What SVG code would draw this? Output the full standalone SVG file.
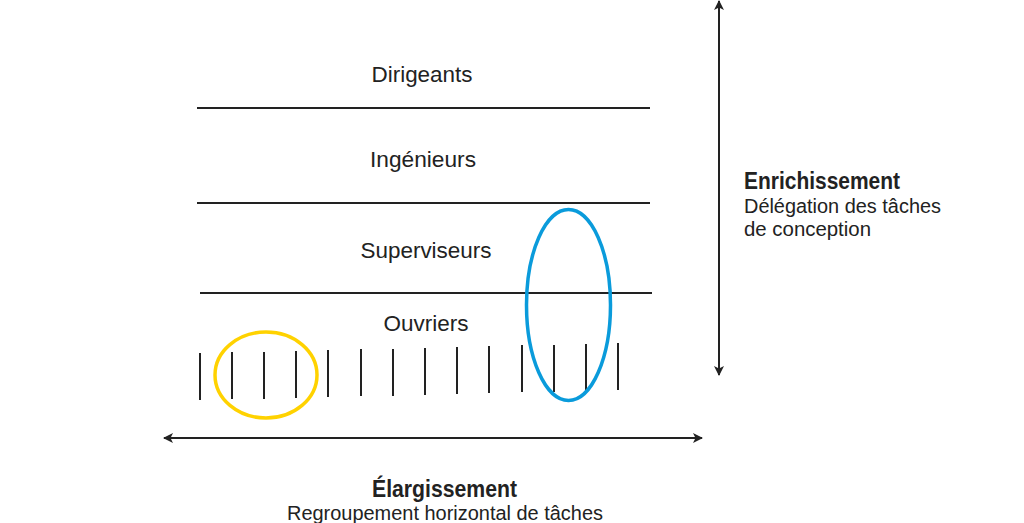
<svg xmlns="http://www.w3.org/2000/svg" width="1024" height="523" viewBox="0 0 1024 523">
<defs>
<marker id="ah" viewBox="0 0 10 10" refX="9" refY="5" markerWidth="10" markerHeight="10" markerUnits="userSpaceOnUse" orient="auto-start-reverse">
<path d="M0,0 L10,5 L0,10 L2.5,5 z" fill="#222"/>
</marker>
</defs>
<style>
.t{font-family:"Liberation Sans",Arial,sans-serif;fill:#222;}
.lvl{font-size:22px;text-anchor:middle;}
.h{font-size:24px;font-weight:bold;}
.s{font-size:19.5px;}
.ln{stroke:#222;stroke-width:2;fill:none;}
.tick{stroke:#222;stroke-width:2;}
</style>
<rect width="1024" height="523" fill="#fff"/>
<g id="levels">
<line class="ln" x1="197" y1="108" x2="650" y2="108"/>
<line class="ln" x1="197" y1="203" x2="650" y2="203"/>
<line class="ln" x1="200" y1="293" x2="652" y2="293"/>
</g>
<g id="dirigeants"><text class="t lvl" x="422" y="82" textLength="101" lengthAdjust="spacingAndGlyphs">Dirigeants</text></g>
<g id="ingenieurs"><text class="t lvl" x="423" y="167" textLength="106" lengthAdjust="spacingAndGlyphs">Ingénieurs</text></g>
<g id="superviseurs"><text class="t lvl" x="426" y="258" textLength="131" lengthAdjust="spacingAndGlyphs">Superviseurs</text></g>
<g id="ouvriers"><text class="t lvl" x="426" y="331" textLength="85" lengthAdjust="spacingAndGlyphs">Ouvriers</text></g>
<g id="ticks">
<line class="tick" x1="200" y1="353" x2="200" y2="400"/>
<line class="tick" x1="232" y1="352" x2="232" y2="399"/>
<line class="tick" x1="264" y1="352" x2="264" y2="399"/>
<line class="tick" x1="296" y1="351" x2="296" y2="398"/>
<line class="tick" x1="328" y1="350" x2="328" y2="397"/>
<line class="tick" x1="361" y1="349" x2="361" y2="396"/>
<line class="tick" x1="393" y1="349" x2="393" y2="396"/>
<line class="tick" x1="425" y1="348" x2="425" y2="395"/>
<line class="tick" x1="457" y1="347" x2="457" y2="394"/>
<line class="tick" x1="489" y1="346" x2="489" y2="393"/>
<line class="tick" x1="522" y1="345" x2="522" y2="392"/>
<line class="tick" x1="554" y1="345" x2="554" y2="392"/>
<line class="tick" x1="586" y1="344" x2="586" y2="391"/>
<line class="tick" x1="618" y1="343" x2="618" y2="390"/>
</g>
<g id="yellow-ellipse"><ellipse cx="266" cy="375" rx="51" ry="43" fill="none" stroke="#FFD200" stroke-width="3.5"/></g>
<g id="blue-ellipse"><ellipse cx="568.5" cy="305" rx="42" ry="95.5" fill="none" stroke="#0A9BDB" stroke-width="3.5"/></g>
<g id="connectors">
<line class="ln" x1="719" y1="1" x2="719" y2="375" marker-start="url(#ah)" marker-end="url(#ah)"/>
<line class="ln" x1="164" y1="438" x2="702" y2="438" marker-start="url(#ah)" marker-end="url(#ah)"/>
</g>
<g id="enrichissement">
<text class="t h" x="744" y="189" textLength="156" lengthAdjust="spacingAndGlyphs">Enrichissement</text>
<text class="t s" x="744" y="213" textLength="197" lengthAdjust="spacingAndGlyphs">Délégation des tâches</text>
<text class="t s" x="744" y="236" textLength="127" lengthAdjust="spacingAndGlyphs">de conception</text>
</g>
<g id="elargissement">
<text class="t h" x="444.5" y="497" text-anchor="middle" textLength="145" lengthAdjust="spacingAndGlyphs">Élargissement</text>
<text class="t s" x="445" y="520" text-anchor="middle" textLength="316" lengthAdjust="spacingAndGlyphs">Regroupement horizontal de tâches</text>
</g>
</svg>
